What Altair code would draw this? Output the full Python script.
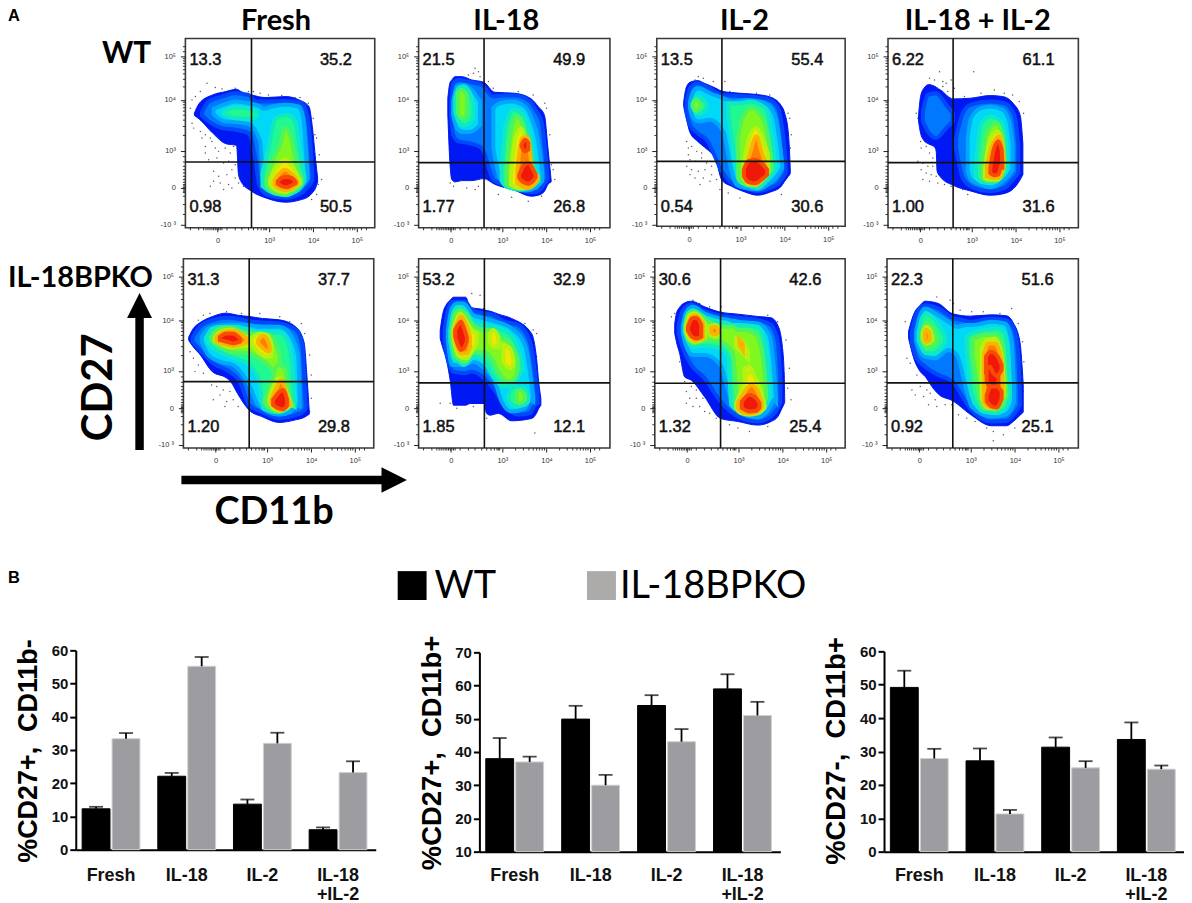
import math
import altair as alt
import pandas as pd

CONDITIONS = ["Fresh", "IL-18", "IL-2", "IL-18\n+IL-2"]
SERIES = ["WT", "IL-18BPKO"]
BAR_WT = [[12.3, 22.1, 13.7, 6.0], [38, 49.9, 54, 59], [49.2, 27.2, 31.3, 33.6]]
BAR_KO = [[33.4, 55.2, 32, 23.2], [37, 30, 43.1, 51], [27.9, 11.3, 25.1, 24.7]]
ERR_WT = [[12.9, 23.1, 15.1, 6.7], [44.2, 53.9, 57.1, 63.4], [54.2, 30.9, 34.2, 38.7]]
ERR_KO = [[35.1, 58, 35.2, 26.6], [38.6, 33.1, 46.9, 55.1], [30.8, 12.5, 27.1, 25.8]]
BAR_TICKS = [[0, 10, 20, 30, 40, 50, 60], [10, 20, 30, 40, 50, 60, 70], [0, 10, 20, 30, 40, 50, 60]]

PERCENTS = [
    ["13.3", "35.2", "0.98", "50.5"], ["21.5", "49.9", "1.77", "26.8"],
    ["13.5", "55.4", "0.54", "30.6"], ["6.22", "61.1", "1.00", "31.6"],
    ["31.3", "37.7", "1.20", "29.8"], ["53.2", "32.9", "1.85", "12.1"],
    ["30.6", "42.6", "1.32", "25.4"], ["22.3", "51.6", "0.92", "25.1"],
]
GATES = [(199, 372), (197, 374), (196, 370), (196, 374), (198, 370), (198, 374), (198, 375), (198, 374)]

LEVEL_FILL = ["#0018f4", "#0078ff", "#00d8f8", "#20f890", "#80f820", "#f0e800", "#ff8000", "#f01808"]
LEVEL_EDGE = ["#0018f4", "#0048fa", "#00a8fc", "#10e8c4", "#50f458", "#b8f010", "#f8b400", "#f84c04"]

# density contours: per panel, per level, blobs of (channel x, upper y, lower y)
C1 = [
 [[(27,225,232),(42,195,243),(82,170,285),(122,160,317),(154,153,322),(160,155,410),(167,160,430),(199,170,460),(242,178,480),(302,175,493),(342,185,487),(372,205,475),(382,265,465),(392,365,450),(398,420,432)]],
 [[(50,222,232),(70,190,250),(110,175,270),(150,165,275),(190,170,285),(212,190,370),(222,190,440),(245,190,470),(300,188,480),(350,195,465),(365,225,450),(375,300,440),(382,410,425)]],
 [[(85,212,228),(120,198,250),(150,190,252),(190,195,258),(225,205,310),(235,212,440),(260,205,462),(300,200,470),(340,205,455),(355,240,440),(362,330,430),(368,410,420)]],
 [[(115,220,228),(150,208,240),(195,212,242),(215,222,235)],[(232,405,445),(250,330,458),(272,240,468),(305,230,472),(330,250,462),(345,340,450),(358,415,430)]],
 [[(245,420,445),(262,370,460),(285,320,468),(300,270,470),(318,300,462),(335,380,452),(350,422,435)]],
 [[(255,425,440),(270,395,455),(300,365,462),(325,390,452),(345,428,436)]],
 [[(268,428,440),(280,410,450),(300,395,456),(322,410,450),(337,430,438)]],
 [[(278,430,438),(290,420,445),(305,417,448),(320,420,442),(332,432,436)]],
]
C2 = [
 [[(88,180,230),(94,135,370),(100,125,425),(110,115,432),(130,115,428),(160,125,428),(196,132,422),(229,162,439),(289,165,457),(339,182,475),(360,205,472),(379,232,460),(389,327,440),(399,427,432)]],
 [[(98,190,230),(104,135,290),(120,125,310),(150,130,315),(190,140,330),(225,175,425),(250,172,438),(290,172,445),(335,190,462),(355,220,462),(370,250,450),(380,330,435),(388,415,425)]],
 [[(104,190,230),(115,145,270),(135,140,282),(160,155,280),(185,190,260)],[(225,210,330),(245,195,420),(280,190,450),(320,205,458),(340,240,455),(358,300,445),(372,400,430)]],
 [[(110,180,220),(120,150,250),(135,145,262),(155,165,255),(165,200,235)],[(250,400,430),(262,260,445),(285,215,452),(310,225,455),(335,290,450),(350,390,440),(362,415,430)]],
 [[(118,165,225),(130,155,240),(145,170,230)],[(265,400,440),(275,300,445),(295,235,450),(312,255,452),(330,330,445),(345,400,438),(352,420,430)]],
 [[(278,410,440),(292,300,448),(310,270,452),(328,370,445),(345,420,432)]],
 [[(297,400,435),(312,300,445),(328,297,450),(342,390,445),(358,415,425)]],
 [[(303,410,420),(315,385,432),(330,375,437),(345,395,428),(352,410,418)],[(310,320,325),(320,305,340),(330,315,335)]],
]
C3 = [
 [[(81,190,205),(88,150,237),(100,132,283),(123,127,310),(143,135,327),(178,150,367),(196,159,427),(225,163,445),(265,166,462),(303,169,472),(343,177,462),(373,200,447),(385,225,430),(396,285,415),(400,350,410),(402,400,405)]],
 [[(90,190,225),(100,150,260),(123,135,285),(150,145,305),(196,170,400),(225,172,435),(265,175,450),(303,178,460),(340,185,450),(365,210,438),(380,290,418),(388,370,405)]],
 [[(100,190,210),(110,160,240),(125,150,250),(160,165,245),(200,180,280),(225,190,400),(240,190,440),(265,185,450),(303,188,455),(335,200,440),(358,240,420),(372,330,400),(378,380,390)]],
 [[(108,195,205),(120,175,225),(135,180,225),(150,195,210)],[(215,195,225),(240,195,390),(250,195,430),(280,190,445),(303,195,450),(330,215,430),(345,290,410),(355,360,395)]],
 [[(108,198,203),(118,185,220),(132,198,205)],[(245,300,420),(258,240,435),(285,210,442),(315,235,430),(335,300,410),(345,370,395)]],
 [[(262,380,420),(275,310,438),(298,270,442),(318,300,425),(335,350,400)]],
 [[(270,390,430),(285,330,438),(300,295,440),(315,340,425),(325,370,410)]],
 [[(262,395,415),(275,370,432),(295,365,436),(315,375,425),(332,395,410)]],
]
C4 = [
 [[(92,230,250),(98,175,285),(108,150,307),(123,139,318),(140,144,327),(145,146,340),(148,149,400),(158,155,417),(196,182,442),(248,180,459),(308,172,472),(345,175,468),(378,197,452),(398,232,425),(406,317,410)]],
 [[(105,220,250),(120,170,280),(145,165,300),(175,200,270),(195,225,250)],[(205,300,330),(225,225,420),(248,200,445),(308,190,460),(350,195,450),(380,230,420),(392,320,405)]],
 [[(240,300,400),(250,240,425),(280,210,440),(308,205,448),(345,215,430),(365,250,410),(375,320,395)]],
 [[(265,380,420),(280,260,432),(308,235,436),(340,250,420),(355,310,400),(358,370,385)]],
 [[(285,385,420),(295,290,428),(325,255,428),(345,290,405),(350,370,385)]],
 [[(292,390,420),(305,310,425),(330,280,425),(345,320,395),(348,370,380)]],
 [[(298,385,415),(315,320,420),(335,295,418),(345,330,390),(348,370,375)]],
 [[(308,390,405),(318,335,412),(332,310,410),(342,335,380),(344,375,395)]],
]
C5 = [
 [[(16,236,246),(30,210,266),(48,194,286),(88,174,341),(128,164,358),(143,166,371),(163,170,406),(198,174,456),(238,180,476),(288,184,493),(338,205,485),(363,251,478),(373,371,472),(379,462,468)]],
 [[(28,236,250),(50,205,275),(90,185,315),(130,178,335),(170,182,370),(198,188,440),(238,192,462),(288,195,480),(340,215,470),(358,260,462),(365,380,455),(368,440,450)]],
 [[(55,235,250),(75,210,290),(110,200,310),(150,198,320),(198,200,380),(225,205,440),(288,205,470),(320,225,462),(345,290,440),(350,420,450)]],
 [[(70,235,245),(85,212,265),(120,205,285),(155,205,300),(198,215,320),(228,222,365),(240,222,450),(288,222,462),(310,240,455),(325,300,440),(335,430,445)]],
 [[(85,235,245),(105,212,262),(140,208,280),(198,225,285),(230,225,300),(255,228,320),(275,250,340),(290,290,360)],[(245,425,435),(262,380,452),(285,320,460),(305,330,452),(320,420,442),(330,440,444)]],
 [[(95,235,248),(115,218,258),(145,214,268),(175,228,262),(198,238,262)],[(205,240,255),(230,226,285),(255,232,295),(265,260,292)],[(260,415,435),(270,385,450),(290,360,458),(310,400,450),(322,435,442)]],
 [[(100,235,248),(120,222,256),(150,218,262),(190,240,252)],[(225,245,255),(240,232,270),(255,250,280),(260,265,275)],[(265,425,435),(280,390,450),(295,365,456),(312,415,445),(320,435,440)]],
 [[(110,235,245),(130,225,250),(150,225,255),(170,240,250)],[(270,425,440),(285,405,450),(300,395,453),(312,425,442)]],
]
C6 = [
 [[(65,216,240),(72,170,265),(85,136,310),(95,125,366),(105,116,441),(142,116,441),(155,146,436),(198,154,436),(204,156,465),(215,158,471),(240,167,466),(280,180,488),(340,225,481),(355,300,465),(362,376,450),(368,420,442)]],
 [[(78,216,250),(90,150,310),(105,130,340),(140,130,345),(160,155,340),(198,165,360),(225,170,390),(260,190,440),(300,200,470),(335,250,465),(350,340,440),(358,410,435)]],
 [[(88,216,245),(100,150,320),(115,135,320),(135,135,320),(165,170,310),(198,180,330),(230,190,370),(250,195,430),(280,210,460),(320,260,450),(335,340,425),(345,420,430)]],
 [[(95,216,245),(105,160,300),(120,145,310),(135,150,320),(170,195,295),(198,200,310),(225,205,355),(255,215,385),(285,240,380),(305,290,345),(312,320,335)],[(270,410,425),(290,385,445),(320,390,440),(330,420,430)]],
 [[(100,216,240),(110,165,290),(125,155,305),(140,165,310),(165,200,280),(198,215,280),(220,215,300),(240,235,340),(270,250,370),(285,270,365),(298,300,340)],[(295,405,430),(305,395,435),(320,410,425)]],
 [[(105,215,235),(115,180,280),(125,165,295),(145,190,300),(160,215,280),(175,225,255)],[(215,225,250),(225,215,265),(240,235,265)],[(255,260,310),(275,270,330),(285,300,320)]],
 [[(108,215,235),(118,190,270),(128,175,285),(145,205,285),(155,235,265)]],
 [[(110,215,235),(118,200,260),(128,190,275),(135,205,270),(145,235,250)]],
]
C7 = [
 [[(60,196,225),(65,165,250),(75,146,286),(90,133,356),(110,128,366),(150,145,416),(198,161,481),(250,167,490),(310,174,501),(350,178,490),(370,200,476),(383,256,450),(390,360,435),(391,425,432)]],
 [[(72,200,225),(85,155,270),(110,138,320),(150,158,360),(198,172,430),(250,178,475),(310,185,490),(350,200,475),(370,250,450),(378,360,430)]],
 [[(85,200,225),(95,160,265),(115,145,290),(150,165,290),(198,180,320),(225,185,410),(250,190,460),(310,195,478),(345,230,450),(360,350,425),(365,420,430)]],
 [[(90,200,220),(100,165,250),(115,155,265),(150,175,262),(198,190,270),(222,195,300),(230,200,440),(250,200,455),(310,205,465),(335,270,440),(345,400,420)]],
 [[(92,200,220),(102,165,245),(118,160,255),(155,185,245),(198,205,250),(235,205,285),(250,215,440),(270,215,458),(305,230,460),(325,300,440),(335,400,420)]],
 [[(95,205,220),(105,170,242),(120,165,250),(150,195,240)],[(165,205,225),(180,200,235),(195,210,225)],[(245,240,265),(265,250,285),(280,280,300)],[(270,330,355),(285,325,370),(300,360,385)],[(245,435,450),(260,400,465),(285,340,470),(310,375,465),(330,440,450)]],
 [[(98,205,218),(110,175,238),(122,170,246),(145,195,240)],[(170,207,222),(180,205,228),(190,212,222)],[(255,245,260),(265,255,275)],[(250,435,448),(265,410,462),(290,380,466),(310,400,460),(322,435,448)]],
 [[(100,205,216),(112,180,235),(125,178,240),(140,200,235)],[(262,430,450),(285,410,460),(305,420,458),(315,435,448)]],
]
C8 = [
 [[(65,218,240),(80,168,298),(100,140,340),(115,128,355),(135,130,385),(155,135,408),(198,166,428),(250,173,468),(315,169,503),(360,172,503),(380,193,490),(400,250,472),(410,378,462)]],
 [[(75,218,255),(90,165,300),(115,140,325),(155,150,350),(198,178,370),(230,185,420),(250,190,450),(315,180,490),(360,185,488),(385,220,465),(395,290,450),(400,400,440)]],
 [[(88,218,245),(100,170,280),(115,150,295),(145,165,300),(185,190,275),(210,205,290),(240,200,400),(255,200,445),(315,190,475),(355,195,470),(375,250,450),(382,380,430)]],
 [[(95,225,245),(105,180,270),(118,165,285),(140,180,285),(165,215,265),(175,235,250)],[(240,235,270),(255,225,410),(290,215,460),(330,210,465),(355,225,450),(365,300,430),(370,400,420)]],
 [[(105,225,245),(118,195,268),(135,205,265),(150,235,250)],[(258,240,290),(275,235,400),(290,230,450),(325,230,455),(350,265,440),(355,340,425),(360,400,415)]],
 [[(108,222,240),(118,205,255),(130,215,250),(135,230,240)],[(285,270,420),(300,245,448),(325,240,450),(345,290,420),(352,380,410)]],
 [[(113,225,238),(118,215,250),(128,225,245)],[(292,290,430),(305,255,445),(325,255,450),(345,310,415),(348,390,405)]],
 [[(298,295,345),(312,280,360),(330,290,355),(345,320,335)],[(300,335,370),(310,325,385),(320,345,395),(335,355,380)],[(300,410,430),(315,385,445),(330,385,448),(345,400,420)]],
]
CONTOURS = [C1, C2, C3, C4, C5, C6, C7, C8]

DOTS = [
 [(20,185),(30,175),(45,160),(65,135),(90,148),(110,152),(130,158),(150,150),(190,160),(205,160),(225,165),(250,170),(290,172),(330,178),(345,178),(370,195),(385,240),(395,300),(390,290),(403,350),(15,210),(20,255),(25,270),(45,280),(60,290),(75,300),(50,300),(60,325),(80,310),(90,330),(100,340),(120,330),(135,345),(145,325),(60,345),(70,365),(95,360),(115,375),(130,370),(150,380),(140,395),(85,400),(100,415),(125,410),(150,420),(160,435),(105,435),(130,440),(75,445),(85,430),(115,455),(140,450),(175,445),(400,440),(395,470),(380,485),(410,425)],
 [(170,90),(180,100),(185,115),(165,105),(150,110),(210,130),(225,150),(300,160),(345,170),(380,195),(385,210),(395,290),(405,395),(410,425),(370,475),(330,490),(240,470),(180,445),(170,455),(145,450),(95,435),(105,445),(390,350),(400,380),(280,478)],
 [(125,115),(115,125),(140,120),(170,130),(205,130),(220,160),(300,165),(340,170),(370,200),(395,225),(400,240),(405,290),(402,330),(90,310),(95,330),(105,325),(120,340),(135,345),(95,350),(100,365),(115,370),(135,360),(150,375),(165,385),(90,385),(105,395),(125,400),(145,395),(165,410),(100,410),(115,420),(140,420),(160,430),(130,440),(180,425),(190,455),(215,465),(250,480),(375,470)],
 [(155,100),(125,120),(140,125),(165,130),(175,135),(190,125),(200,150),(180,160),(165,145),(230,175),(280,165),(320,155),(350,165),(375,170),(395,190),(408,225),(258,100),(90,240),(85,225),(98,310),(100,330),(115,325),(125,345),(135,360),(90,370),(105,375),(120,385),(135,385),(100,395),(115,405),(130,410),(145,415),(105,425),(125,430),(150,435),(170,440),(190,445),(225,455),(240,470)],
 [(80,165),(60,170),(45,185),(130,160),(175,165),(230,165),(290,175),(320,190),(355,195),(365,225),(380,290),(385,350),(385,420),(380,460),(20,280),(30,300),(45,320),(60,345),(35,340),(70,370),(85,380),(100,385),(120,395),(140,400),(110,410),(130,430),(90,425),(150,425),(165,445),(125,445)],
 [(160,105),(185,110),(195,150),(225,165),(320,195),(345,215),(355,225),(355,295),(115,450),(95,435),(65,435),(165,445),(350,525),(205,480)],
 [(50,175),(60,165),(100,130),(115,125),(135,135),(165,145),(200,145),(340,170),(370,190),(395,245),(405,330),(400,390),(410,425),(75,310),(85,330),(90,370),(110,385),(125,395),(95,400),(105,420),(125,420),(145,420),(95,435),(115,445),(135,445),(150,460),(165,465),(185,480),(225,500),(250,510),(285,520),(340,505)],
 [(55,190),(150,115),(190,125),(200,135),(220,155),(255,160),(290,160),(340,165),(375,150),(395,195),(408,250),(412,310),(60,300),(70,315),(90,350),(75,395),(85,410),(100,385),(120,395),(110,415),(130,405),(145,425),(125,440),(150,445),(175,440),(195,440),(215,470),(240,480),(265,490),(300,510),(320,520),(350,530),(320,548),(410,400),(385,510)],
]

# axis marks of the flow plots, in the same channel units
X_MAJOR = [97, 252, 385, 516]
Y_MAJOR = [55, 185, 338, 450, 560]
X_LABELS = ["0", "10³", "10⁴", "10⁵"]
Y_LABELS = ["10⁵", "10⁴", "10³", "0", "-10 ³"]
X_MINOR_NEAR = [15, 40, 55, 62, 68, 74, 80, 85, 90, 95, 100, 105, 110, 125, 150, 170, 190, 205, 218, 228, 236, 240, 244]
Y_MINOR_NEAR = [356, 372, 385, 395, 405, 415, 425, 433, 440, 444, 448, 452, 456, 460, 464, 475, 500, 530]
LOG_STEPS = [2, 3, 4, 5, 6, 7, 8, 9]
X_MINOR = X_MINOR_NEAR + [a + (b - a) * math.log10(k) for a, b in [(252, 385), (385, 516)] for k in LOG_STEPS] + [530, 545]
Y_MINOR = Y_MINOR_NEAR + [a + (b - a) * math.log10(k) for a, b in [(338, 185), (185, 55)] for k in LOG_STEPS] + [40, 25]

SANS = "Liberation Sans"
HEAD = "Lato"
one = pd.DataFrame({"a": [0]})


def spacer(w, h):
    return alt.Chart(one).mark_point(opacity=0, size=1).encode(
        x=alt.value(w / 2), y=alt.value(h / 2)).properties(width=w, height=h)


def label_expr(values, labels):
    expr = "''"
    for v, t in zip(values, labels):
        expr = f"datum.value=={v}?'{t}':" + expr
    return expr


def flow_panel(i, w, h):
    xs = alt.Scale(domain=[0, w * 3], nice=False, zero=False)
    ys = alt.Scale(domain=[0, h * 3], nice=False, zero=False, reverse=True)
    ax = alt.Axis(title=None, values=X_MAJOR, labelExpr=label_expr(X_MAJOR, X_LABELS), grid=False, domain=False,
                  tickSize=4, tickColor="#222", labelFontSize=7.5, labelColor="#333", labelFont=SANS, labelPadding=5,
                  labelOverlap=False)
    ay = alt.Axis(title=None, values=Y_MAJOR, labelExpr=label_expr(Y_MAJOR, Y_LABELS), grid=False, domain=False,
                  tickSize=5, tickColor="#222", labelFontSize=7.5, labelColor="#333", labelFont=SANS, labelPadding=5,
                  labelOverlap=False)
    X = alt.X("x:Q", scale=xs, axis=ax)
    Y = alt.Y("y:Q", scale=ys, axis=ay)
    Ytop = alt.Y("top:Q", scale=ys, axis=ay)
    layers = [
        alt.Chart(pd.DataFrame({"x": [p[0] for p in DOTS[i]], "y": [p[1] for p in DOTS[i]]})).mark_circle(
            size=2.2, color="#222", opacity=0.75).encode(x=X, y=Y)
    ]
    for lev, blobs in enumerate(CONTOURS[i]):
        rows = [{"blob": b, "x": s[0], "top": s[1], "bot": s[2]} for b, blob in enumerate(blobs) for s in blob]
        layers.append(
            alt.Chart(pd.DataFrame(rows)).mark_area(
                interpolate="monotone", fill=LEVEL_FILL[lev], stroke=LEVEL_EDGE[lev], strokeWidth=4 if lev else 1
            ).encode(x=X, y=Ytop, y2="bot:Q", detail="blob:N")
        )
    gx, gy = GATES[i]
    layers.append(alt.Chart(pd.DataFrame({"x": [gx]})).mark_rule(color="#111", strokeWidth=1.6).encode(x=X))
    layers.append(alt.Chart(pd.DataFrame({"y": [gy]})).mark_rule(color="#111", strokeWidth=1.6).encode(y=Y))
    layers.append(alt.Chart(pd.DataFrame({"x": X_MINOR})).mark_rule(color="#222", strokeWidth=0.9).encode(
        x=X, y=alt.value(h), y2=alt.value(h + 2.5)))
    layers.append(alt.Chart(pd.DataFrame({"y": Y_MINOR})).mark_rule(color="#222", strokeWidth=0.9).encode(
        y=Y, x=alt.value(-2.5), x2=alt.value(0)))
    pct = pd.DataFrame({"x": [12, 405, 12, 405], "y": [64, 64, 506, 506], "t": PERCENTS[i]})
    layers.append(alt.Chart(pct).mark_text(font=SANS, fontSize=16.5, align="left", baseline="middle", color="#111",
                                           stroke="#111", strokeWidth=0.5).encode(
        x=X, y=Y, text="t:N"))
    return alt.layer(*layers).properties(width=w, height=h, view=alt.ViewBackground(stroke="#3a3a3a", strokeWidth=1.6))


def bar_panel(i, w, h, dom, top):
    rows = []
    for c, cond in enumerate(CONDITIONS):
        rows.append({"c": cond, "s": SERIES[0], "v": BAR_WT[i][c], "e": ERR_WT[i][c], "b": dom[0]})
        rows.append({"c": cond, "s": SERIES[1], "v": BAR_KO[i][c], "e": ERR_KO[i][c], "b": dom[0]})
    df = pd.DataFrame(rows)
    xs = alt.Scale(domain=CONDITIONS, paddingInner=0.236, paddingOuter=0.1, align=0.42)
    ax = alt.Axis(title=None, labels=False, ticks=False, domainWidth=2, domainColor="#000", grid=False)
    ay = alt.Axis(title=None, values=BAR_TICKS[i], tickWidth=2, tickSize=6, tickColor="#000", domainWidth=2,
                  domainColor="#000", grid=False, labelFont=SANS, labelFontWeight="bold", labelFontSize=15,
                  labelColor="#111", labelPadding=2)
    X = alt.X("c:N", scale=xs, axis=ax)
    off = alt.XOffset("s:N", scale=alt.Scale(domain=SERIES, paddingInner=0.07))
    ys = alt.Scale(domain=dom, nice=False, zero=False, range=[h, top])
    bars = alt.Chart(df).mark_bar(strokeWidth=1).encode(
        x=X, xOffset=off, y=alt.Y("v:Q", scale=ys, axis=ay), y2="b:Q",
        fill=alt.Fill("s:N", scale=alt.Scale(domain=SERIES, range=["#000000", "#9d9ca1"]), legend=None),
        stroke=alt.Stroke("s:N", scale=alt.Scale(domain=SERIES, range=["#000000", "#cfcfcf"]), legend=None),
    )
    stem = alt.Chart(df).mark_rule(color="#000", strokeWidth=1.8).encode(
        x=X, xOffset=off, y=alt.Y("v:Q", scale=ys, axis=ay), y2="e:Q")
    cap = alt.Chart(df).mark_tick(color="#000", orient="horizontal", size=14, thickness=1.8).encode(
        x=X, xOffset=off, y=alt.Y("e:Q", scale=ys, axis=ay))
    lab = alt.Chart(pd.DataFrame({"c": CONDITIONS})).mark_text(
        font=SANS, fontWeight="bold", fontSize=18, lineBreak="\n", lineHeight=20, baseline="middle", color="#111"
    ).encode(x=X, y=alt.value(226), text="c:N")
    return alt.layer(bars, stem, cap, lab).properties(width=w, height=h)


# page coordinates of each row's top edge, used for the free-standing labels
ROW_TOP = [8, 38, 258, 651]


def note(row, text, x, y, size, font=HEAD, weight="bold", angle=0, align="center"):
    return alt.Chart(one).mark_text(text=text, font=font, fontSize=size, fontWeight=weight, angle=angle, align=align,
                                    baseline="alphabetic", color="#000").encode(
        x=alt.value(x - 8), y=alt.value(y - ROW_TOP[row]))


def arrow(row, x1, y1, x2, y2, px, py, shape, size):
    return [
        alt.Chart(one).mark_rule(color="#000", strokeWidth=8.5).encode(
            x=alt.value(x1 - 8), x2=alt.value(x2 - 8), y=alt.value(y1 - ROW_TOP[row]), y2=alt.value(y2 - ROW_TOP[row])),
        alt.Chart(one).mark_point(shape=shape, size=size, filled=True, color="#000", opacity=1, strokeWidth=0).encode(
            x=alt.value(px - 8), y=alt.value(py - ROW_TOP[row])),
    ]


def swatch(row, series, color, x, y):
    return alt.Chart(pd.DataFrame({"s": [series]})).mark_point(
        shape="square", size=840, filled=True, opacity=1, color=color, strokeWidth=0
    ).encode(x=alt.value(x - 8), y=alt.value(y - ROW_TOP[row]))


title_one = "%CD27+,\u00a0\u00a0CD11b-"
title_two = "%CD27+,\u00a0\u00a0CD11b+"
title_three = "%CD27-,\u00a0\u00a0CD11b+"

row0 = alt.layer(
    note(0, "A", 8, 20, 16.5, font=SANS, align="left"),
    note(0, "Fresh", 277, 29, 29),
    note(0, "IL-18", 508, 29, 29),
    note(0, "IL-2", 747, 29, 29),
    note(0, "IL-18 + IL-2", 981, 29, 29),
).properties(width=1176, height=24)

row1_lead = alt.layer(note(1, "WT", 127, 63, 30)).properties(width=178, height=219)
row1 = alt.hconcat(row1_lead, flow_panel(0, 190, 190), spacer(44, 190), flow_panel(1, 192, 190),
                   spacer(47, 190), flow_panel(2, 189, 188.5), spacer(43, 190), flow_panel(3, 191, 190),
                   spacing=0, bounds="flush")

row2_lead = alt.layer(
    note(2, "IL-18BPKO", 8, 286, 29, align="left"),
    note(2, "CD27", 112, 387, 42, angle=270),
    note(2, "CD11b", 275, 524, 38),
    *arrow(2, 140, 317, 140, 450, 140, 305, "M-1,1L1,1L0,-1Z", 625),
    *arrow(2, 182, 480, 385, 480, 395.5, 480, "M-1,-1L1,0L-1,1Z", 650),
    swatch(2, "WT", "#000000", 413.5, 586),
    swatch(2, "IL-18BPKO", "#adaaaa", 603.5, 586),
    note(2, "WT", 436, 598, 38, weight="normal", align="left"),
    note(2, "IL-18BPKO", 622, 598, 38, weight="normal", align="left"),
    note(2, "B", 8, 583, 16.5, font=SANS, align="left"),
).properties(width=176, height=378)
row2 = alt.hconcat(row2_lead, flow_panel(4, 191, 190), spacer(45, 190), flow_panel(5, 192, 190),
                   spacer(45, 190), flow_panel(6, 191, 190), spacer(42, 190), flow_panel(7, 192, 190),
                   spacing=0, bounds="flush")

row3_lead = alt.layer(
    note(3, title_one, 37, 752, 27, font=SANS, angle=270),
    note(3, title_two, 442, 754, 27.5, font=SANS, angle=270),
    note(3, title_three, 848, 752, 27.5, font=SANS, angle=270),
).properties(width=68, height=200)
row3 = alt.hconcat(row3_lead, bar_panel(0, 301, 200, [0, 60], 0), spacer(104, 200),
                   bar_panel(1, 302, 202, [10, 70], 2), spacer(104, 200), bar_panel(2, 301, 202, [0, 60], 1),
                   spacing=0, bounds="flush")

chart = alt.vconcat(row0, row1, row2, row3, spacing=0).properties(
    padding=alt.Padding(left=0, top=-2, right=0, bottom=0), background="white"
).configure_view(stroke=None)

chart.save("out.html", embed_options={"renderer": "svg", "actions": False})
